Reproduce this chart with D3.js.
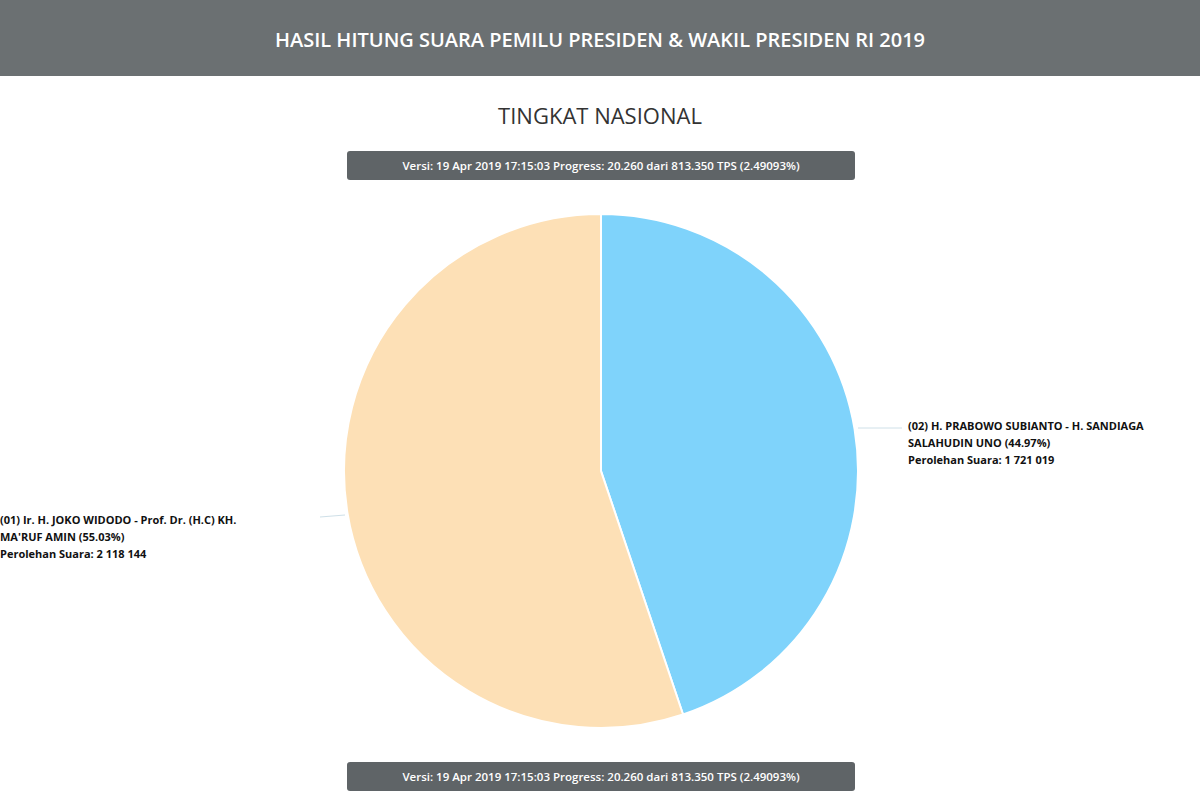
<!DOCTYPE html>
<html><head><meta charset="utf-8">
<script src="https://cdn.jsdelivr.net/npm/d3@7"></script>
<style>body{margin:0;background:#fff;font-family:"Open Sans",sans-serif;}</style>
</head><body>
<script>
var WIDTH = 1200, HEIGHT = 800;
var candidates = ['(02) H. PRABOWO SUBIANTO - H. SANDIAGA|SALAHUDIN UNO (44.97%)', '(01) Ir. H. JOKO WIDODO - Prof. Dr. (H.C) KH.|MA\'RUF AMIN (55.03%)'];
var votes = [1721019, 2118144];
var voteLabels = ['1 721 019', '2 118 144'];
var colors = ['#7fd3fb', '#fde0b6'];
var VERSION = 'Versi: 19 Apr 2019 17:15:03 Progress: 20.260 dari 813.350 TPS (2.49093%)';

var CX = 601, CY = 471, R = 257;

var svg = d3.select('body').append('svg').attr('width', WIDTH).attr('height', HEIGHT);

svg.append('rect').attr('width', WIDTH).attr('height', 76).attr('fill', '#6b7072');
svg.append('text').attr('x', WIDTH / 2).attr('y', 47).attr('text-anchor', 'middle')
  .attr('fill', '#fff').attr('font-size', 20).attr('font-weight', 600)
  .text('HASIL HITUNG SUARA PEMILU PRESIDEN & WAKIL PRESIDEN RI 2019');
svg.append('text').attr('x', WIDTH / 2).attr('y', 124).attr('text-anchor', 'middle')
  .attr('fill', '#333').attr('font-size', 22).text('TINGKAT NASIONAL');

[151, 762].forEach(function (y) {
  svg.append('rect').attr('x', 347).attr('y', y).attr('width', 508).attr('height', 29)
    .attr('rx', 3).attr('fill', '#5f6467');
  svg.append('text').attr('x', 601).attr('y', y + 19).attr('text-anchor', 'middle')
    .attr('fill', '#fff').attr('font-size', 11.5).attr('font-weight', 600).text(VERSION);
});

var pie = d3.pie().sort(null).value(function (d) { return d; });
var arcs = pie(votes);
var arc = d3.arc().innerRadius(0).outerRadius(R);
var g = svg.append('g').attr('transform', 'translate(' + CX + ',' + CY + ')');
g.selectAll('path').data(arcs).enter().append('path')
  .attr('d', arc).attr('fill', function (d, i) { return colors[i]; })
  .attr('stroke', '#fff').attr('stroke-width', 2);

var labelPos = [{ x: 908, y: 430, lx1: 858, ly: 428, lx2: 902, anchor: 'start' },
                { x: 0, y: 524, lx1: 345, ly: 515, lx2: 320, anchor: 'start' }];
arcs.forEach(function (d, i) {
  var p = labelPos[i];
  svg.append('line').attr('x1', p.lx1).attr('x2', p.lx2).attr('y1', p.ly).attr('y2', p.ly + (i ? 2 : 0))
    .attr('stroke', '#cfe0e8').attr('stroke-width', 1);
  var t = svg.append('text').attr('font-size', 11).attr('font-weight', 700).attr('fill', '#111');
  var lines = candidates[i].split('|').concat(['Perolehan Suara: ' + voteLabels[i]]);
  lines.forEach(function (s, k) {
    t.append('tspan').attr('x', p.x).attr('y', p.y + k * 17).text(s);
  });
});
</script>
</body></html>
